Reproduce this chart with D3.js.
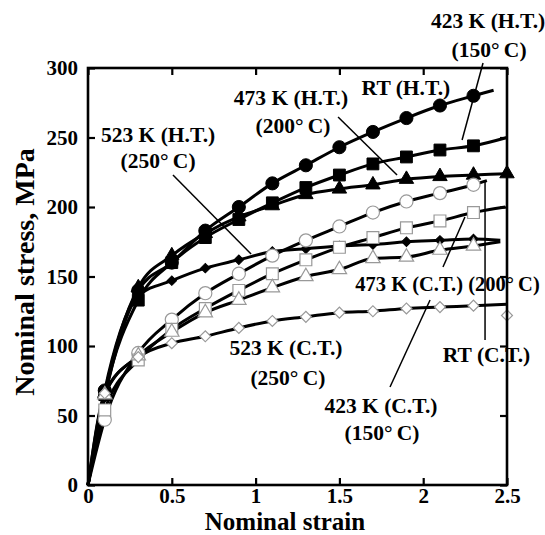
<!DOCTYPE html>
<html>
<head>
<meta charset="utf-8">
<script src="https://cdn.jsdelivr.net/npm/d3@7"></script>
<style>
  body { margin: 0; background: #fff; }
  svg text { font-family: "Liberation Serif", "Times New Roman", serif; font-weight: bold; fill: #000; }
</style>
</head>
<body>
<svg id="chart" width="545" height="535"></svg>
<script>
// strain where the markers sit
const strainMarks = [0.1, 0.3, 0.5, 0.7, 0.9, 1.1, 1.3, 1.5, 1.7, 1.9, 2.1, 2.3];

// nominal stress (MPa) at each marker
const rtHT   = [68, 140, 160, 183, 200, 217, 230, 243, 254, 264, 273, 280];
const k423HT = [65, 133, 160, 178, 191, 203, 214, 223, 231, 236, 241, 244];
const k473HT = [66, 142, 165, 181, 193, 201, 209, 213, 216, 220, 222, 223];
const k523HT = [63, 136, 147, 156, 162, 168, 170, 172, 173, 175, 176, 177];
const rtCT   = [47, 95, 119, 138, 152, 165, 176, 186, 196, 204, 210, 216];
const k473CT = [54, 90, 112, 127, 140, 152, 162, 171, 178, 185, 190, 196];
const k423CT = [65, 93, 110, 124, 133, 142, 150, 155, 163, 164, 169, 172];
const k523CT = [66, 92, 102, 107, 113, 118, 121, 124, 125, 127, 128, 129];

// where each curve stops
const endStrain = [2.42, 2.5, 2.5, 2.46, 2.38, 2.49, 2.46, 2.5];
const endStress = [284, 250, 224, 176, 219, 200, 175, 130];
// a last marker at failure (only two curves have one)
const lastStrain = [null, null, 2.5, null, null, null, null, 2.5];
const lastStress = [null, null, 224, null, null, null, null, 122];

const xTicks = [0, 0.5, 1, 1.5, 2, 2.5];
const yTicks = [0, 50, 100, 150, 200, 250, 300];

const seriesValues = [rtHT, k423HT, k473HT, k523HT, rtCT, k473CT, k423CT, k523CT];
const seriesMarker = ["circle", "square", "triangle", "diamond", "circle", "square", "triangle", "diamond"];
const seriesFilled = [true, true, true, true, false, false, false, false];

const svg = d3.select("#chart");
const x = d3.scaleLinear().domain([0, 2.5]).range([88, 507]);
const y = d3.scaleLinear().domain([0, 300]).range([485, 68]);

// curves
const line = d3.line().x(d => x(d[0])).y(d => y(d[1])).curve(d3.curveMonotoneX);
seriesValues.forEach((vals, i) => {
  const pts = [[0, 0]].concat(strainMarks.map((s, j) => [s, vals[j]]));
  pts.push([endStrain[i], endStress[i]]);
  svg.append("path").attr("d", line(pts))
    .attr("fill", "none").attr("stroke", "#000").attr("stroke-width", 3)
    .attr("stroke-linejoin", "round");
});

// markers
function symbolFor(kind, filled) {
  if (kind === "circle") return d3.symbol(d3.symbolCircle, 135)();
  if (kind === "square") return d3.symbol(d3.symbolSquare, 140)();
  if (kind === "triangle") return d3.symbol(d3.symbolTriangle, 90)();
  return d3.symbol(d3.symbolSquare, filled ? 45 : 60)();
}
seriesValues.forEach((vals, i) => {
  const pts = strainMarks.map((s, j) => [s, vals[j]]);
  if (lastStrain[i] !== null) pts.push([lastStrain[i], lastStress[i]]);
  const kind = seriesMarker[i];
  svg.append("g").selectAll("path").data(pts).join("path")
    .attr("d", symbolFor(kind, seriesFilled[i]))
    .attr("transform", d => `translate(${x(d[0])},${y(d[1])})` + (kind === "diamond" ? " rotate(45)" : ""))
    .attr("fill", seriesFilled[i] ? "#000" : "#fff")
    .attr("stroke", seriesFilled[i] ? "#000" : "#999")
    .attr("stroke-width", seriesFilled[i] ? 1 : 1.2);
});

// axes (ticks inward)
const fmt = d => d3.format("")(d);
const gx = svg.append("g").attr("transform", `translate(0,${y(0)})`)
  .call(d3.axisBottom(x).tickValues(xTicks).tickSize(-7).tickPadding(3).tickFormat(fmt));
const gy = svg.append("g").attr("transform", `translate(${x(0)},0)`)
  .call(d3.axisLeft(y).tickValues(yTicks).tickSize(-7).tickPadding(10));
const gt = svg.append("g").attr("transform", `translate(0,${y(300)})`)
  .call(d3.axisTop(x).tickValues(xTicks).tickSize(-7).tickFormat(""));
const gr = svg.append("g").attr("transform", `translate(${x(2.5)},0)`)
  .call(d3.axisRight(y).tickValues(yTicks).tickSize(-7).tickFormat(""));
[gx, gy, gt, gr].forEach(g => {
  g.select(".domain").remove();
  g.selectAll(".tick line").attr("stroke", "#000").attr("stroke-width", 2.2);
  g.selectAll("text").attr("font-size", 21).attr("fill", "#000")
    .style("font-family", "'Liberation Serif', serif").style("font-weight", "bold");
});

svg.append("rect")
  .attr("x", x(0)).attr("y", y(300))
  .attr("width", x(2.5) - x(0)).attr("height", y(0) - y(300))
  .attr("fill", "none").attr("stroke", "#000").attr("stroke-width", 2.6);

// axis titles
svg.append("text").attr("x", 285).attr("y", 529.5).attr("text-anchor", "middle")
  .attr("font-size", 25).text("Nominal strain");
svg.append("text").attr("transform", "translate(34,272) rotate(-90)")
  .attr("text-anchor", "middle").attr("font-size", 28).text("Nominal stress, MPa");

// annotations, placed in data units
const labels = [
  ["423 K (H.T.)", 2.387, 328.8], ["(150°\u2009C)", 2.393, 307.9],
  ["RT (H.T.)", 1.897, 280.6],
  ["473 K (H.T.)", 1.211, 273.4], ["(200°\u2009C)", 1.223, 253.2],
  ["523 K (H.T.)", 0.418, 246.8], ["(250°\u2009C)", 0.418, 228.0],
  ["473 K (C.T.) (200°\u2009C)", 2.145, 139.6],
  ["RT (C.T.)", 2.378, 88.5],
  ["523 K (C.T.)", 1.181, 93.5], ["(250°\u2009C)", 1.193, 71.9],
  ["423 K (C.T.)", 1.748, 51.8], ["(150°\u2009C)", 1.754, 32.4]
];
const leaders = [
  [2.357, 303.6, 2.232, 248.2],
  [1.492, 264.7, 1.844, 223.0],
  [0.507, 223.0, 0.973, 166.2],
  [2.118, 156.8, 2.249, 192.8],
  [2.369, 218.0, 2.369, 104.3],
  [1.802, 70.5, 2.041, 133.1]
];
svg.append("g").selectAll("line").data(leaders).join("line")
  .attr("x1", d => x(d[0])).attr("y1", d => y(d[1]))
  .attr("x2", d => x(d[2])).attr("y2", d => y(d[3]))
  .attr("stroke", "#000").attr("stroke-width", 1.5);
svg.append("g").selectAll("text").data(labels).join("text")
  .attr("x", d => x(d[1])).attr("y", d => y(d[2]))
  .attr("text-anchor", "middle").attr("font-size", d => d[0].length > 15 ? 20.5 : 21.5)
  .text(d => d[0]);
</script>
</body>
</html>
